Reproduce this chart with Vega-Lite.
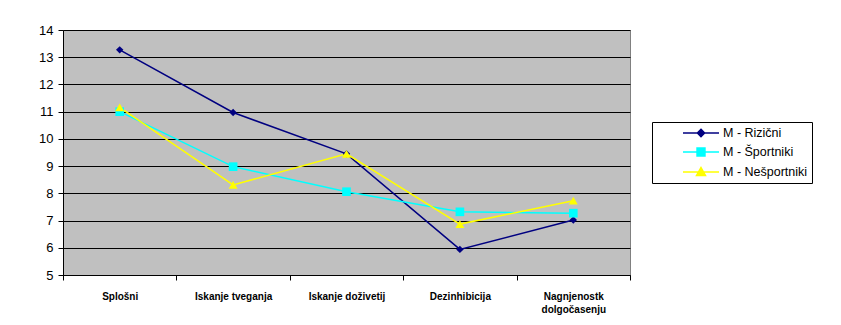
{
  "$schema": "https://vega.github.io/schema/vega-lite/v6.json",
  "autosize": {"type": "none"},
  "width": 567,
  "height": 245,
  "padding": {"left": 63, "top": 30, "right": 211, "bottom": 50},
  "background": "white",
  "data": {
    "values": [
      {"cat": "Splošni", "series": "M - Rizični", "v": 13.27},
      {"cat": "Iskanje tveganja", "series": "M - Rizični", "v": 10.97},
      {"cat": "Iskanje doživetij", "series": "M - Rizični", "v": 9.45},
      {"cat": "Dezinhibicija", "series": "M - Rizični", "v": 5.94},
      {"cat": "Nagnjenost k dolgočasenju", "series": "M - Rizični", "v": 7.02},
      {"cat": "Splošni", "series": "M - Športniki", "v": 11.0},
      {"cat": "Iskanje tveganja", "series": "M - Športniki", "v": 8.98},
      {"cat": "Iskanje doživetij", "series": "M - Športniki", "v": 8.06},
      {"cat": "Dezinhibicija", "series": "M - Športniki", "v": 7.32},
      {"cat": "Nagnjenost k dolgočasenju", "series": "M - Športniki", "v": 7.27},
      {"cat": "Splošni", "series": "M - Nešportniki", "v": 11.16},
      {"cat": "Iskanje tveganja", "series": "M - Nešportniki", "v": 8.31},
      {"cat": "Iskanje doživetij", "series": "M - Nešportniki", "v": 9.45},
      {"cat": "Dezinhibicija", "series": "M - Nešportniki", "v": 6.87},
      {"cat": "Nagnjenost k dolgočasenju", "series": "M - Nešportniki", "v": 7.73}
    ]
  },
  "encoding": {
    "x": {
      "field": "cat", "type": "nominal", "bandPosition": 0.5,
      "scale": {"type": "band", "paddingInner": 0, "paddingOuter": 0,
        "domain": ["Splošni", "Iskanje tveganja", "Iskanje doživetij", "Dezinhibicija", "Nagnjenost k dolgočasenju"]},
      "axis": {
        "title": null, "labelAngle": 0, "tickBand": "extent", "bandPosition": 0,
        "domainColor": "black", "tickColor": "black", "tickSize": 5,
        "labelFont": "Liberation Sans", "labelFontWeight": "bold", "labelFontSize": 10,
        "labelColor": "black", "labelPadding": 16, "labelLineHeight": 13,
        "labelBaseline": "middle",
        "labelExpr": "datum.label == 'Nagnjenost k dolgočasenju' ? ['Nagnjenostk', 'dolgočasenju'] : datum.label"
      }
    },
    "y": {
      "field": "v", "type": "quantitative",
      "scale": {"domain": [5, 14], "nice": false, "zero": false},
      "axis": {
        "title": null, "values": [5, 6, 7, 8, 9, 10, 11, 12, 13, 14],
        "grid": true, "gridColor": "black", "gridWidth": 1, "gridOpacity": 1,
        "domainColor": "black", "tickColor": "black", "tickSize": 5,
        "labelFont": "Liberation Sans", "labelFontSize": 13, "labelColor": "black",
        "labelPadding": 5
      }
    },
    "color": {
      "field": "series", "type": "nominal",
      "scale": {"domain": ["M - Rizični", "M - Športniki", "M - Nešportniki"], "range": ["#000080", "#00FFFF", "#FFFF00"]},
      "legend": {
        "title": null, "orient": "none", "legendX": 589, "legendY": 92,
        "strokeColor": "black", "padding": 4, "symbolSize": 144,
        "symbolOffset": 38, "labelOffset": 15, "rowPadding": 5,
        "labelFont": "Liberation Sans", "labelFontSize": 12.5, "labelColor": "black",
        "symbolStrokeWidth": 1.5,
        "labelExpr": "datum.label + '                        '",
        "encode": {
          "symbols": {
            "update": {
              "shape": {"signal": "datum.value == 'M - Rizični' ? 'M-3,0H3M0,-0.6L0.6,0L0,0.6L-0.6,0Z' : datum.value == 'M - Športniki' ? 'M-3,0H3M-0.66,-0.66H0.66V0.66H-0.66Z' : 'M-3,0H3M0,-0.75L0.75,0.6H-0.75Z'"},
              "fill": {"signal": "scale('color', datum.value)"},
              "stroke": {"signal": "scale('color', datum.value)"},
              "opacity": {"value": 1},
              "fillOpacity": {"value": 1}
            }
          }
        }
      }
    }
  },
  "layer": [
    {"mark": {"type": "line", "strokeWidth": 1.5}},
    {
      "transform": [{"filter": "datum.series == 'M - Rizični'"}],
      "mark": {"type": "point", "filled": true, "opacity": 1, "shape": "diamond", "size": 55}
    },
    {
      "transform": [{"filter": "datum.series == 'M - Športniki'"}],
      "mark": {"type": "point", "filled": true, "opacity": 1, "shape": "square", "size": 75}
    },
    {
      "transform": [{"filter": "datum.series == 'M - Nešportniki'"}],
      "mark": {"type": "point", "filled": true, "opacity": 1, "shape": "triangle-up", "size": 80}
    }
  ],
  "config": {
    "view": {"fill": "#C0C0C0", "stroke": "#808080", "strokeWidth": 1}
  }
}
